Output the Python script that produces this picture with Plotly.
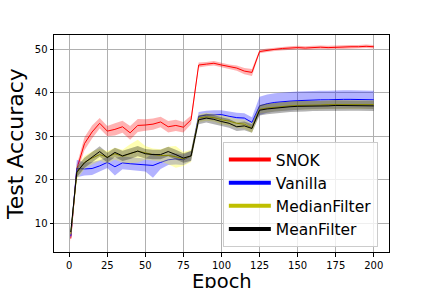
import plotly.graph_objects as go

epochs = [1] + list(range(5, 201, 5))

snok_mean = [6.5, 22.5, 28.3, 31.0, 33.0, 31.2, 31.6, 32.2, 30.8, 32.5, 32.6, 32.8, 33.3, 32.2, 32.5, 32.1, 33.8,
             46.4, 46.6, 46.8, 46.4, 46.0, 45.7, 45.0, 44.7,
             49.5, 49.8, 50.0, 50.2, 50.3, 50.4, 50.3, 50.4, 50.5, 50.4, 50.5, 50.5, 50.6, 50.6, 50.7, 50.6]
snok_err = [0.8, 1.0, 1.5, 1.5, 1.2, 1.2, 1.4, 1.4, 1.6, 1.5, 1.3, 1.3, 1.2, 1.3, 1.3, 1.2, 1.0,
            0.6, 0.5, 0.5, 0.5, 0.5, 0.6, 0.7, 0.8,
            0.4, 0.4, 0.4, 0.4, 0.4, 0.4, 0.4, 0.4, 0.4, 0.4, 0.4, 0.4, 0.4, 0.4, 0.4, 0.4]

vanilla_mean = [7.0, 22.6, 22.5, 22.6, 23.2, 24.0, 23.0, 23.9, 23.7, 23.6, 23.4, 23.3, 24.0, 24.6, 24.8, 24.6, 25.5,
                34.6, 34.9, 35.0, 35.0, 34.6, 34.3, 34.2, 33.2,
                37.0, 37.5, 37.8, 38.0, 38.1, 38.2, 38.3, 38.4, 38.4, 38.4, 38.5, 38.5, 38.5, 38.5, 38.5, 38.4]
vanilla_err = [0.8, 2.0, 1.5, 1.5, 1.3, 1.3, 2.0, 1.5, 1.5, 1.5, 1.5, 2.8, 1.5, 1.2, 1.3, 1.2, 1.2,
               1.0, 1.0, 1.0, 1.0, 1.1, 1.1, 1.1, 1.2,
               2.1, 2.1, 2.1, 2.1, 2.1, 2.1, 2.1, 2.1, 2.1, 2.1, 2.1, 2.1, 2.1, 2.1, 2.1, 2.1]

median_mean = [7.5, 21.6, 24.0, 25.0, 25.8, 25.2, 26.0, 25.4, 26.0, 26.6, 26.2, 25.8, 25.6, 25.6, 25.3, 24.8, 25.5,
               34.2, 34.5, 34.3, 33.8, 33.5, 33.0, 32.8, 31.9,
               36.2, 36.5, 36.7, 36.9, 37.0, 37.1, 37.1, 37.2, 37.2, 37.3, 37.3, 37.3, 37.3, 37.4, 37.3, 37.3]
median_err = [0.8, 1.5, 1.5, 1.5, 1.4, 1.4, 1.4, 1.5, 2.2, 2.6, 1.6, 1.4, 1.4, 2.0, 2.5, 1.6, 1.4,
              0.9, 0.9, 0.9, 1.0, 1.0, 1.0, 1.0, 1.1,
              1.0, 1.0, 1.0, 1.0, 1.0, 1.0, 1.0, 1.0, 1.0, 1.0, 1.0, 1.0, 1.0, 1.0, 1.0, 1.0]

mean_mean = [8.0, 21.8, 23.9, 25.1, 26.5, 25.1, 26.3, 25.5, 26.0, 26.6, 26.0, 25.8, 25.8, 26.5, 25.8, 25.0, 25.5,
             33.8, 34.2, 33.9, 33.4, 33.0, 32.2, 32.4, 31.8,
             36.0, 36.3, 36.5, 36.6, 36.8, 36.9, 36.9, 37.0, 37.0, 37.0, 37.1, 37.1, 37.1, 37.1, 37.1, 37.0]
mean_err = [0.8, 1.2, 1.2, 1.2, 1.2, 1.1, 1.1, 1.2, 1.2, 1.2, 1.1, 1.1, 1.1, 1.1, 1.1, 1.1, 1.1,
            1.0, 1.0, 1.0, 1.0, 1.0, 1.0, 1.0, 1.0,
            1.2, 1.2, 1.2, 1.2, 1.2, 1.2, 1.2, 1.2, 1.2, 1.2, 1.2, 1.2, 1.2, 1.2, 1.2, 1.2]

series_names = ["SNOK", "Vanilla", "MedianFilter", "MeanFilter"]
x_title = "Epoch"
y_title = "Test Accuracy"
series = [
    (snok_mean, snok_err, "rgb(255,0,0)", "rgba(255,0,0,0.3)"),
    (vanilla_mean, vanilla_err, "rgb(0,0,255)", "rgba(0,0,255,0.3)"),
    (median_mean, median_err, "rgb(191,191,0)", "rgba(255,255,0,0.3)"),
    (mean_mean, mean_err, "rgb(0,0,0)", "rgba(0,0,0,0.3)"),
]

fig = go.Figure()
for name, (m, e, lc, fc) in zip(series_names, series):
    upper = [a + b for a, b in zip(m, e)]
    lower = [a - b for a, b in zip(m, e)]
    fig.add_trace(go.Scatter(x=epochs + epochs[::-1], y=upper + lower[::-1], fill="toself",
                             fillcolor=fc, line=dict(width=0), mode="lines", hoverinfo="skip",
                             showlegend=False))
    fig.add_trace(go.Scatter(x=epochs, y=m, mode="lines", line=dict(color=lc, width=1),
                             name=name, showlegend=False))

for name, (m, e, lc, fc) in zip(series_names, series):
    fig.add_trace(go.Scatter(x=[None], y=[None], mode="lines", line=dict(color=lc, width=4),
                             name=name, showlegend=True))

axis_common = dict(showgrid=True, gridcolor="#b0b0b0", gridwidth=0.8, showline=True, mirror=True,
                   linecolor="black", linewidth=1, ticks="outside", ticklen=3.5, tickcolor="black",
                   tickfont=dict(size=10, color="black"), zeroline=False, automargin=False)

fig.update_layout(
    width=432, height=288,
    margin=dict(l=54, r=43, t=35, b=36),
    paper_bgcolor="white", plot_bgcolor="white",
    font=dict(family="DejaVu Sans", color="black"),
    xaxis=dict(range=[-10, 210], tickvals=[0, 25, 50, 75, 100, 125, 150, 175, 200], **axis_common),
    yaxis=dict(range=[3.4, 53.3], tickvals=[10, 20, 30, 40, 50],
               title=dict(text=y_title, font=dict(size=22), standoff=5), **axis_common),
    legend=dict(x=0.504, y=0.507, xanchor="left", yanchor="top", bgcolor="rgba(255,255,255,0.8)",
                bordercolor="#cccccc", borderwidth=1, font=dict(size=15.5), tracegroupgap=0,
                itemwidth=42),
    annotations=[dict(text=x_title, xref="paper", yref="paper", x=0.5, y=0, xanchor="center",
                      yanchor="top", yshift=-16, showarrow=False, font=dict(size=19.5))],
)

fig.write_html("out.html", config={"displayModeBar": False},
               post_script="document.body.style.margin='0px';")
